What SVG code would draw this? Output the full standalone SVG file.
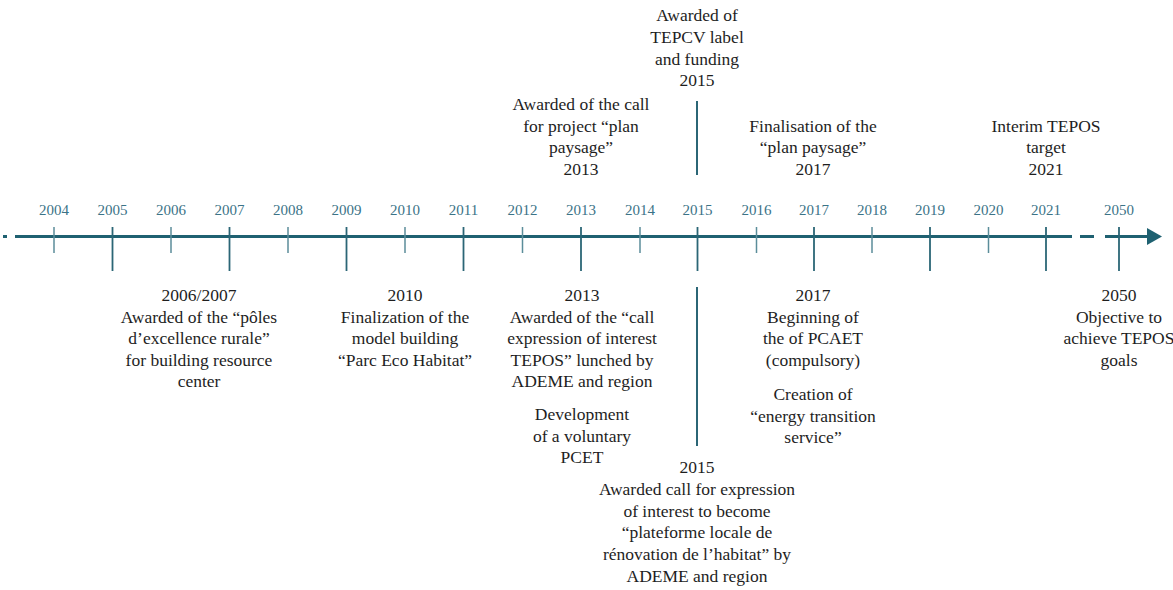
<svg xmlns="http://www.w3.org/2000/svg" width="1173" height="590" viewBox="0 0 1173 590">
<style>
.t{font-size:17.5px;fill:#1e1e1e;text-anchor:middle}
.y{font-size:15px;fill:#3b7387;text-anchor:middle}
.ax{stroke:#1f6171;stroke-width:3;fill:none}
.mn{stroke:#5b8d9a;stroke-width:1.5}
.mj{stroke:#2b6676;stroke-width:1.8}
.vl{stroke:#2b6676;stroke-width:2}
</style>
<rect width="1173" height="590" fill="#ffffff"/>
<g id="connectors">
<line class="ax" x1="3" y1="236.5" x2="7" y2="236.5"/>
<line class="ax" x1="15" y1="236.5" x2="1072" y2="236.5"/>
<line class="ax" x1="1080" y1="236.5" x2="1094" y2="236.5"/>
<line class="ax" x1="1105" y1="236.5" x2="1149" y2="236.5"/>
<polygon points="1147,228 1162,236.5 1147,245" fill="#1f6171"/>
<g class="mn">
<line x1="54" y1="227" x2="54" y2="253"/>
<line x1="171" y1="227" x2="171" y2="253"/>
<line x1="288" y1="227" x2="288" y2="253"/>
<line x1="405" y1="227" x2="405" y2="253"/>
<line x1="522.5" y1="227" x2="522.5" y2="253"/>
<line x1="640" y1="227" x2="640" y2="253"/>
<line x1="756.5" y1="227" x2="756.5" y2="253"/>
<line x1="872" y1="227" x2="872" y2="253"/>
<line x1="988.5" y1="227" x2="988.5" y2="253"/>
</g>
<g class="mj">
<line x1="112.5" y1="227" x2="112.5" y2="271"/>
<line x1="229.5" y1="227" x2="229.5" y2="271"/>
<line x1="346.5" y1="227" x2="346.5" y2="271"/>
<line x1="463.5" y1="227" x2="463.5" y2="271"/>
<line x1="581" y1="227" x2="581" y2="271"/>
<line x1="697.5" y1="227" x2="697.5" y2="271"/>
<line x1="814" y1="227" x2="814" y2="271"/>
<line x1="930" y1="227" x2="930" y2="271"/>
<line x1="1046" y1="227" x2="1046" y2="271"/>
<line x1="1119" y1="227" x2="1119" y2="271"/>
</g>
<line class="vl" x1="697" y1="101" x2="697" y2="175"/>
<line class="vl" x1="697" y1="287" x2="697" y2="446"/>
</g>
<g font-family="'Liberation Serif', 'Times New Roman', serif">
<g id="years">
<text class="y" x="54" y="215">2004</text>
<text class="y" x="112.5" y="215">2005</text>
<text class="y" x="171" y="215">2006</text>
<text class="y" x="229.5" y="215">2007</text>
<text class="y" x="288" y="215">2008</text>
<text class="y" x="346.5" y="215">2009</text>
<text class="y" x="405" y="215">2010</text>
<text class="y" x="463.5" y="215">2011</text>
<text class="y" x="522.5" y="215">2012</text>
<text class="y" x="581" y="215">2013</text>
<text class="y" x="640" y="215">2014</text>
<text class="y" x="697.5" y="215">2015</text>
<text class="y" x="756.5" y="215">2016</text>
<text class="y" x="814" y="215">2017</text>
<text class="y" x="872" y="215">2018</text>
<text class="y" x="930" y="215">2019</text>
<text class="y" x="988.5" y="215">2020</text>
<text class="y" x="1046" y="215">2021</text>
<text class="y" x="1119" y="215">2050</text>
</g>
<g id="ev-tepcv">
<text class="t" x="697" y="21">Awarded of</text>
<text class="t" x="697" y="43">TEPCV label</text>
<text class="t" x="697" y="64.5">and funding</text>
<text class="t" x="697" y="86">2015</text>
</g>
<g id="ev-plan-paysage-2013">
<text class="t" x="581" y="110">Awarded of the call</text>
<text class="t" x="581" y="131.7">for project “plan</text>
<text class="t" x="581" y="153.3">paysage”</text>
<text class="t" x="581" y="175">2013</text>
</g>
<g id="ev-plan-paysage-2017">
<text class="t" x="813" y="131.7">Finalisation of the</text>
<text class="t" x="813" y="153.3">“plan paysage”</text>
<text class="t" x="813" y="175">2017</text>
</g>
<g id="ev-interim-2021">
<text class="t" x="1046" y="131.7">Interim TEPOS</text>
<text class="t" x="1046" y="153.3">target</text>
<text class="t" x="1046" y="175">2021</text>
</g>
<g id="ev-2006">
<text class="t" x="199" y="300.5">2006/2007</text>
<text class="t" x="199" y="322.5">Awarded of the “pôles</text>
<text class="t" x="199" y="344">d’excellence rurale”</text>
<text class="t" x="199" y="365.5">for building resource</text>
<text class="t" x="199" y="387">center</text>
</g>
<g id="ev-2010">
<text class="t" x="405" y="300.5">2010</text>
<text class="t" x="405" y="322.5">Finalization of the</text>
<text class="t" x="405" y="344">model building</text>
<text class="t" x="405" y="365.5">“Parc Eco Habitat”</text>
</g>
<g id="ev-2013">
<text class="t" x="582" y="300.5">2013</text>
<text class="t" x="582" y="322.5">Awarded of the “call</text>
<text class="t" x="582" y="344">expression of interest</text>
<text class="t" x="582" y="365.5">TEPOS” lunched by</text>
<text class="t" x="582" y="387">ADEME and region</text>
</g>
<g id="ev-pcet">
<text class="t" x="582" y="420">Development</text>
<text class="t" x="582" y="441.7">of a voluntary</text>
<text class="t" x="582" y="463.3">PCET</text>
</g>
<g id="ev-2015">
<text class="t" x="697" y="473">2015</text>
<text class="t" x="697" y="494.8">Awarded call for expression</text>
<text class="t" x="697" y="516.6">of interest to become</text>
<text class="t" x="697" y="538.4">“plateforme locale de</text>
<text class="t" x="697" y="560.2">rénovation de l’habitat” by</text>
<text class="t" x="697" y="582">ADEME and region</text>
</g>
<g id="ev-2017">
<text class="t" x="813" y="300.5">2017</text>
<text class="t" x="813" y="322.5">Beginning of</text>
<text class="t" x="813" y="344">the of PCAET</text>
<text class="t" x="813" y="365.5">(compulsory)</text>
</g>
<g id="ev-service">
<text class="t" x="813" y="400">Creation of</text>
<text class="t" x="813" y="421.5">“energy transition</text>
<text class="t" x="813" y="443">service”</text>
</g>
<g id="ev-2050">
<text class="t" x="1119" y="300.5">2050</text>
<text class="t" x="1119" y="322.5">Objective to</text>
<text class="t" x="1119" y="344">achieve TEPOS</text>
<text class="t" x="1119" y="365.5">goals</text>
</g>
</g>
</svg>
